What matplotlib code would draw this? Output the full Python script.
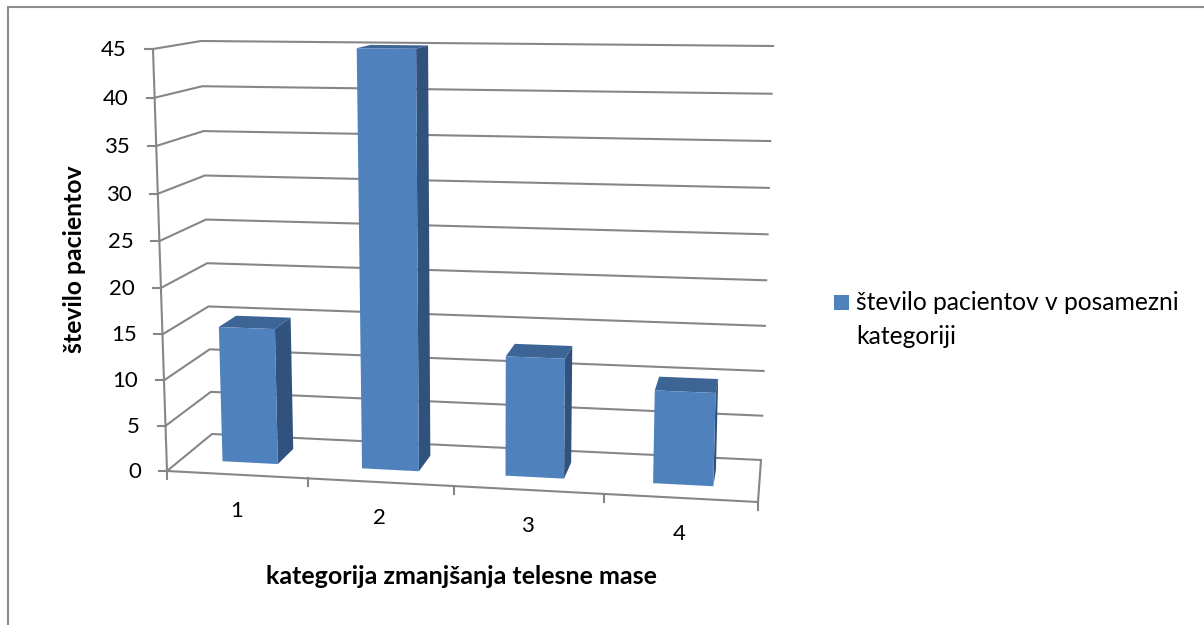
import numpy as np
import matplotlib
matplotlib.use('Agg')
import matplotlib.pyplot as plt
from matplotlib.patches import Polygon, Rectangle

plt.rcParams['font.family'] = ['Lato', 'DejaVu Sans']

# datos
categories = ['1', '2', '3', '4']
patients = [15, 45, 13, 10]
y_ticks = [0, 5, 10, 15, 20, 25, 30, 35, 40, 45]
x_label = 'kategorija zmanjšanja telesne mase'
y_label = 'število pacientov'
legend_lines = ['število pacientov v posamezni', 'kategoriji']

GRID = '#868686'
FRONT = '#4F81BD'
SIDE = '#31527C'
TOP = '#3C6494'
TEXT = '#000000'


def homography(src, dst):
    rows, rhs = [], []
    for (u, v), (x, y) in zip(src, dst):
        rows.append([u, v, 1, 0, 0, 0, -u * x, -v * x])
        rows.append([0, 0, 0, u, v, 1, -u * y, -v * y])
        rhs += [x, y]
    return np.append(np.linalg.solve(np.array(rows, float), np.array(rhs, float)), 1).reshape(3, 3)


# esquinas del grafico 3D en pixeles: (x, valor) -> imagen
n = len(categories)
vmax = max(y_ticks)
plane = [(0, 0), (n, 0), (0, vmax), (n, vmax)]
H_front = homography(plane, [(167, 471), (758, 502), (153, 49), (771, 55)])
H_back = homography(plane, [(212, 434), (761, 460), (201, 41), (773, 46)])


def proj(i, v, d=0.0):
    pf = H_front @ [i, v, 1]
    pb = H_back @ [i, v, 1]
    pf = pf[:2] / pf[2]
    pb = pb[:2] / pb[2]
    return tuple(pf + (pb - pf) * d)


fig = plt.figure(figsize=(12.04, 6.25), dpi=100)
ax = fig.add_axes([0, 0, 1, 1])
ax.set_xlim(0, 1204)
ax.set_ylim(625, 0)
ax.axis('off')

# marco (solo arriba e izquierda)
ax.plot([8, 8, 1204], [625, 7, 7], color='#8C8C8C', lw=1.5, solid_joinstyle='miter')

# rejilla
for v in y_ticks:
    pts = [proj(0, v), proj(0, v, 1), proj(n, v, 1)]
    if v == 0:
        pts.append(proj(n, 0))
        pts.append(proj(0, 0))
    ax.plot(*zip(*pts), color=GRID, lw=1.5, solid_joinstyle='miter', zorder=1)
    # marca y etiqueta
    x0, y0 = proj(0, v)
    ax.plot([x0 - 8, x0], [y0, y0], color=GRID, lw=1.5, zorder=1)
    ax.text(x0 - 26, y0 + 1, str(v), ha='right', va='center', fontsize=16, color=TEXT)

# eje vertical izquierdo
ax.plot(*zip(proj(0, 0), proj(0, vmax)), color=GRID, lw=1.5, zorder=1)

# marcas del eje x
for i in range(n + 1):
    x0, y0 = proj(i, 0)
    ax.plot([x0, x0], [y0, y0 + 8], color=GRID, lw=1.5, zorder=1)

# barras
w = 0.4
d0, d1 = 0.32, 0.72
for i, (cat, val) in enumerate(zip(categories, patients)):
    l, r = i + 0.5 - w / 2, i + 0.5 + w / 2
    top = [proj(l, val, d0), proj(r, val, d0), proj(r, val, d1), proj(l, val, d1)]
    side = [proj(r, 0, d0), proj(r, val, d0), proj(r, val, d1), proj(r, 0, d1)]
    front = [proj(l, 0, d0), proj(r, 0, d0), proj(r, val, d0), proj(l, val, d0)]
    ax.add_patch(Polygon(top, fc=TOP, ec='none', zorder=3))
    ax.add_patch(Polygon(side, fc=SIDE, ec='none', zorder=3))
    ax.add_patch(Polygon(front, fc=FRONT, ec='none', zorder=4))
    xc, yc = proj(i + 0.5, 0)
    ax.text(xc - 1, yc + 36, cat, ha='center', va='center', fontsize=16, color=TEXT)

# titulos de ejes
ax.text(75, 259, y_label, rotation=90, ha='center', va='center', fontsize=17.8, fontweight='bold', color=TEXT)
ax.text(461, 576, x_label, ha='center', va='center', fontsize=18, fontweight='bold', color=TEXT)

# leyenda
ax.add_patch(Rectangle((834, 295), 15, 15, fc=FRONT, ec='none'))
ax.text(856, 302, legend_lines[0], ha='left', va='center', fontsize=17.7, color=TEXT)
ax.text(856, 337, legend_lines[1], ha='left', va='center', fontsize=17.7, color=TEXT)

fig.savefig('out.png', dpi=100)
